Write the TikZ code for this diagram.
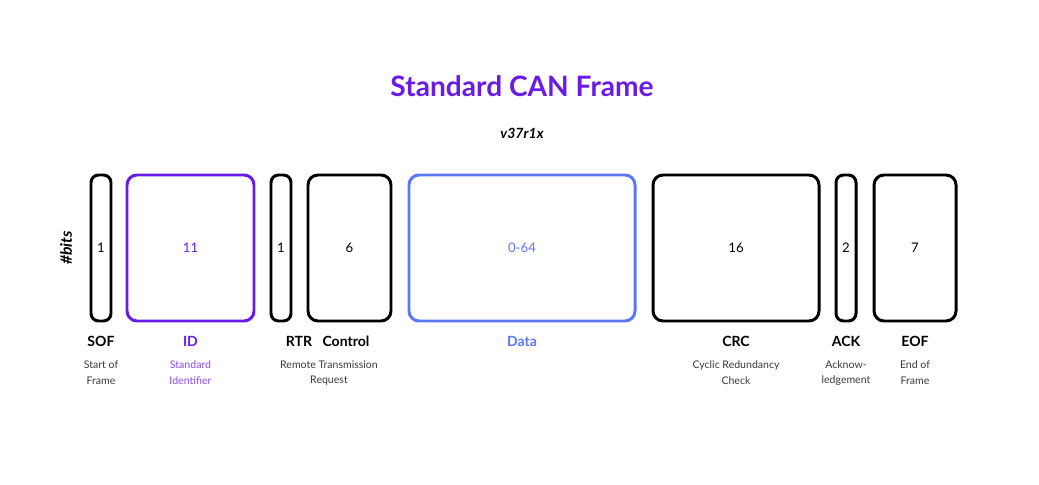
\documentclass[tikz,border=0pt]{standalone}
\usepackage{fontspec}
\setmainfont{Lato}
\usetikzlibrary{positioning}
\definecolor{idpurple}{HTML}{6A1BE6}
\definecolor{idlight}{HTML}{8A4BEE}
\definecolor{datablue}{HTML}{5B78F6}
\definecolor{desc}{HTML}{3A3A3A}
\tikzset{
	field/.style={draw, line width=1.7pt, rounded corners=0.2cm, minimum height=2.92cm, font=\fontsize{7.5}{9}\selectfont},
	thin/.style={field, minimum width=0.4cm, inner sep=0pt, rounded corners=0.15cm},
	fname/.style={font=\fontsize{8}{10}\selectfont\bfseries},
	fdesc/.style={font=\fontsize{6}{9}\selectfont, text=desc, align=center}
}
\begin{document}
\begin{tikzpicture}
	\useasboundingbox (0,0) rectangle (20.78,9.7);
	\node[font=\fontsize{16}{19}\selectfont\bfseries, text=idpurple] (title) at (10.44,7.98) {Standard CAN Frame};
	\node[font=\fontsize{8}{10}\selectfont\bfseries\itshape] (ver) at (10.44,7.04) {v37r1x};
	\node[font=\fontsize{9}{11}\selectfont\bfseries\itshape, rotate=90] (bits) at (1.32,4.74) {\#bits};

	\node[thin] (sof) at (2.02,4.74) {1};
	\node[field, draw=idpurple, text=idpurple, minimum width=2.54cm] (id) at (3.81,4.74) {11};
	\node[thin] (rtr) at (5.62,4.74) {1};
	\node[field, minimum width=1.66cm] (ctrl) at (6.99,4.74) {6};
	\node[field, draw=datablue, text=datablue, minimum width=4.52cm] (data) at (10.44,4.74) {0-64};
	\node[field, minimum width=3.32cm] (crc) at (14.72,4.74) {16};
	\node[thin] (ack) at (16.92,4.74) {2};
	\node[field, minimum width=1.64cm] (eof) at (18.30,4.74) {7};

	\node[fname] (sofname) at (2.02,2.88) {SOF};
	\node[fname, text=idpurple] (idname) at (3.81,2.88) {ID};
	\node[fname] (rtrname) at (5.98,2.88) {RTR};
	\node[fname] (ctrlname) at (6.92,2.88) {Control};
	\node[fname, text=datablue] (dataname) at (10.44,2.88) {Data};
	\node[fname] (crcname) at (14.72,2.88) {CRC};
	\node[fname] (ackname) at (16.92,2.88) {ACK};
	\node[fname] (eofname) at (18.30,2.88) {EOF};

	\node[fdesc] (sofdesc) at (2.02,2.24) {Start of\\Frame};
	\node[fdesc, text=idlight] (iddesc) at (3.81,2.24) {Standard\\Identifier};
	\node[fdesc] (rtrdesc) at (6.58,2.24) {Remote Transmission\\Request};
	\node[fdesc] (crcdesc) at (14.72,2.24) {Cyclic Redundancy\\Check};
	\node[fdesc] (ackdesc) at (16.92,2.24) {Acknow-\\ledgement};
	\node[fdesc] (eofdesc) at (18.30,2.24) {End of\\Frame};
\end{tikzpicture}
\end{document}
